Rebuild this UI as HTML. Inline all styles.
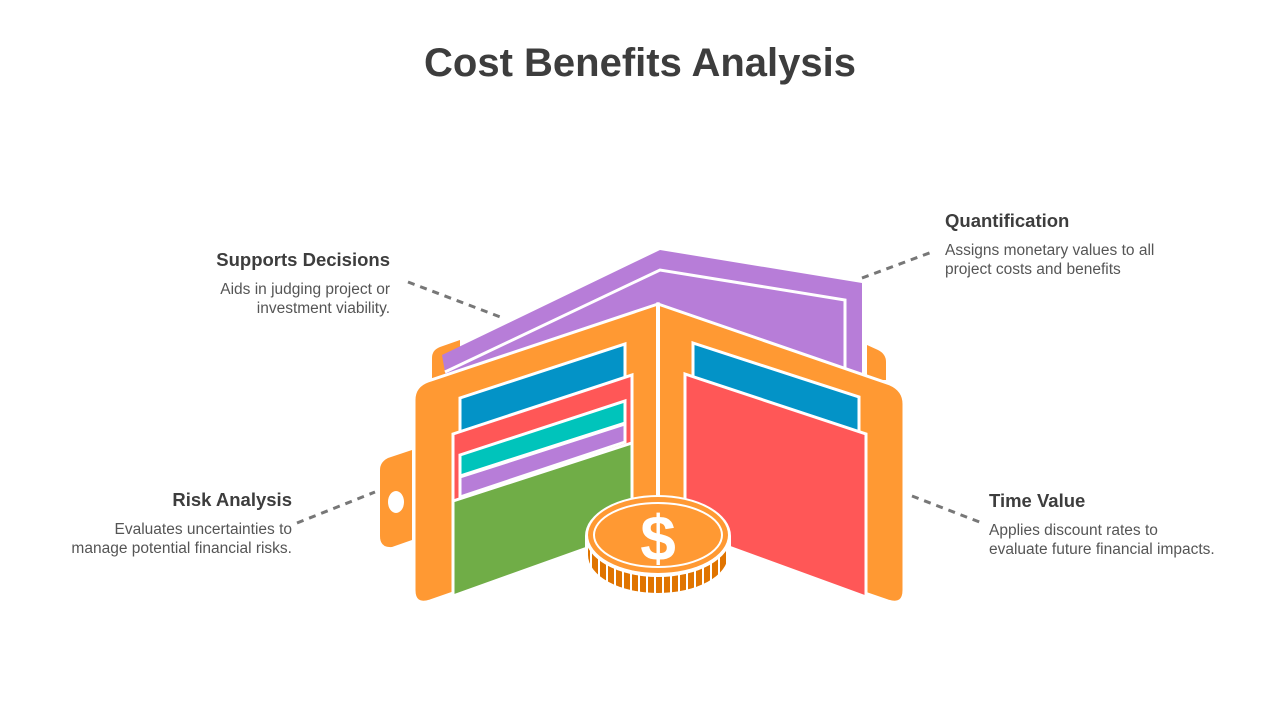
<!DOCTYPE html>
<html><head><meta charset="utf-8"><style>
html,body{margin:0;padding:0;background:#fff;}
svg{display:block;}
text{font-family:"Liberation Sans",sans-serif;}
.h{font-size:18.5px;font-weight:bold;fill:#3d3d3d;}
.b{font-size:15.5px;fill:#555;}
</style></head><body>
<svg width="1280" height="720" viewBox="0 0 1280 720" xmlns="http://www.w3.org/2000/svg">
<defs>
<pattern id="st" width="8" height="20" patternUnits="userSpaceOnUse"><rect width="8" height="20" fill="#e07400"/><rect x="6" width="2" height="20" fill="#fff"/></pattern>
</defs>
<text x="640" y="76" text-anchor="middle" style="font-size:40px;font-weight:bold;fill:#3d3d3d">Cost Benefits Analysis</text>

<text class="h" x="390" y="266" text-anchor="end">Supports Decisions</text>
<text class="b" x="390" y="294" text-anchor="end">Aids in judging project or</text>
<text class="b" x="390" y="313" text-anchor="end">investment viability.</text>
<text class="h" x="292" y="506" text-anchor="end">Risk Analysis</text>
<text class="b" x="292" y="534" text-anchor="end">Evaluates uncertainties to</text>
<text class="b" x="292" y="553" text-anchor="end">manage potential financial risks.</text>
<text class="h" x="945" y="227">Quantification</text>
<text class="b" x="945" y="255">Assigns monetary values to all</text>
<text class="b" x="945" y="274">project costs and benefits</text>
<text class="h" x="989" y="507">Time Value</text>
<text class="b" x="989" y="535">Applies discount rates to</text>
<text class="b" x="989" y="554">evaluate future financial impacts.</text>

<g stroke="#777" stroke-width="3" stroke-dasharray="7,6" fill="none">
<line x1="408" y1="282" x2="503" y2="318"/>
<line x1="297" y1="523" x2="375" y2="492"/>
<line x1="862" y1="278" x2="932" y2="252"/>
<line x1="912" y1="496" x2="982" y2="523"/>
</g>

<path d="M432,378 V358 Q432,350 440,347 L460,340 V378 Z" fill="#ff9933"/>
<path d="M867,345 L878,350 Q886,354 886,362 V380 H867 Z" fill="#ff9933"/>
<path d="M442,355 L660,250 L862,283 L862,385 L660,310 L446,378 Z" fill="#b77dd8"/>
<path d="M445,372 L660,270 L845,300 L845,372" fill="none" stroke="#fff" stroke-width="3"/>
<path d="M380,470 Q380,462 388,458 L412,450 V540 L392,547 Q380,548 380,536 Z" fill="#ff9933"/>
<ellipse cx="396" cy="502" rx="8" ry="11" fill="#fff"/>
<path d="M658,304 L428,381 Q414,386 414,400 V590 Q414,606 430,601 L658,522 Z" fill="#ff9933" stroke="#fff" stroke-width="3"/>
<path d="M658,304 L890,384 Q904,390 904,404 V590 Q904,606 888,601 L658,522 Z" fill="#ff9933" stroke="#fff" stroke-width="3"/>
<line x1="658" y1="304" x2="658" y2="522" stroke="#fff" stroke-width="4"/>
<path d="M460,398 L625,344 L625,420 L460,478 Z" fill="#0393c7" stroke="#fff" stroke-width="3"/>
<path d="M453,434 L632,375 L632,460 L453,520 Z" fill="#ff5757" stroke="#fff" stroke-width="3"/>
<path d="M460,455 L625,401 L625,423 L460,476 Z" fill="#00c4bb" stroke="#fff" stroke-width="3"/>
<path d="M460,477 L625,424 L625,442 L460,497 Z" fill="#b77dd8" stroke="#fff" stroke-width="3"/>
<path d="M453,501 L632,443 L632,532 L453,596 Z" fill="#70ad47" stroke="#fff" stroke-width="3"/>
<path d="M693,343 L859,397 L859,440 L693,385 Z" fill="#0393c7" stroke="#fff" stroke-width="3"/>
<path d="M685,374 L866,434 L866,597 L685,531 Z" fill="#ff5757" stroke="#fff" stroke-width="3"/>
<path d="M585,536 V556 A73,40 0 0 0 731,556 V536 Z" fill="#fff"/>
<path d="M588,538 V555 A70,38 0 0 0 728,555 V538 Z" fill="url(#st)"/>
<ellipse cx="658" cy="536" rx="73" ry="41" fill="#fff"/>
<ellipse cx="658" cy="535" rx="70" ry="38" fill="#ff9933"/>
<ellipse cx="658" cy="535" rx="64" ry="32" fill="none" stroke="#fff" stroke-width="2"/>
<text x="658" y="560" text-anchor="middle" style="font-size:64px;font-weight:bold;fill:#fff">$</text>
</svg>
</body></html>
